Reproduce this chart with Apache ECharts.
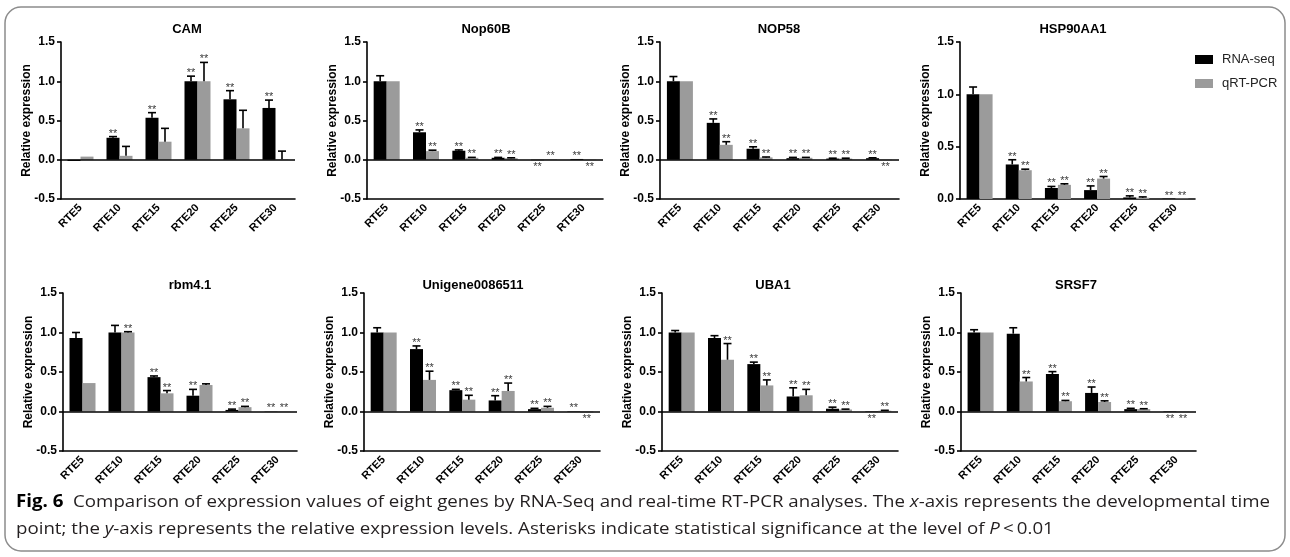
<!DOCTYPE html>
<html><head><meta charset="utf-8">
<script src="https://cdn.jsdelivr.net/npm/echarts@6/dist/echarts.min.js"></script>
<style>html,body{margin:0;padding:0;background:#fff}#c{width:1290px;height:557px}</style>
</head><body><div id="c"></div><script>
// ---------- data ----------
const categories = ['RTE5','RTE10','RTE15','RTE20','RTE25','RTE30'];
const seriesNames = ['RNA-seq','qRT-PCR'];
const geneNames = ['CAM','Nop60B','NOP58','HSP90AA1','rbm4.1','Unigene0086511','UBA1','SRSF7'];
const yTickLabelsFull = ['-0.5','0.0','0.5','1.0','1.5'];

const camRna      = [-0.015, 0.28, 0.535, 1.0, 0.77, 0.66];
const camRnaErr   = [0, 0.015, 0.065, 0.065, 0.11, 0.10];
const camRnaSig   = [0, 1, 1, 1, 1, 1];
const camQpcr     = [0.04, 0.05, 0.23, 1.0, 0.40, 0.005];
const camQpcrErr  = [0, 0.12, 0.17, 0.24, 0.23, 0.105];
const camQpcrSig  = [0, 0, 0, 1, 0, 0];

const nop60bRna     = [1.0, 0.35, 0.115, 0.025, -0.005, 0.01];
const nop60bRnaErr  = [0.07, 0.03, 0.01, 0.005, 0, 0];
const nop60bRnaSig  = [0, 1, 1, 1, 1, 1];
const nop60bQpcr    = [1.0, 0.11, 0.025, 0.02, 0.005, -0.005];
const nop60bQpcrErr = [0, 0.012, 0.005, 0.005, 0, 0];
const nop60bQpcrSig = [0, 1, 1, 1, 1, 1];

const nop58Rna     = [1.0, 0.47, 0.14, 0.02, 0.015, 0.02];
const nop58RnaErr  = [0.06, 0.05, 0.025, 0.01, 0.005, 0.005];
const nop58RnaSig  = [0, 1, 1, 1, 1, 1];
const nop58Qpcr    = [1.0, 0.19, 0.03, 0.025, 0.015, -0.005];
const nop58QpcrErr = [0, 0.04, 0.005, 0.005, 0.005, 0];
const nop58QpcrSig = [0, 1, 1, 1, 1, 1];

const hspRna     = [1.0, 0.33, 0.105, 0.085, 0.015, 0.003];
const hspRnaErr  = [0.07, 0.045, 0.015, 0.04, 0.015, 0];
const hspRnaSig  = [0, 1, 1, 1, 1, 1];
const hspQpcr    = [1.0, 0.275, 0.135, 0.195, 0.012, 0.003];
const hspQpcrErr = [0, 0.01, 0.01, 0.02, 0.008, 0];
const hspQpcrSig = [0, 1, 1, 1, 1, 1];

const rbmRna     = [0.93, 1.0, 0.435, 0.2, 0.02, 0.003];
const rbmRnaErr  = [0.07, 0.09, 0.015, 0.08, 0.01, 0];
const rbmRnaSig  = [0, 0, 1, 1, 1, 1];
const rbmQpcr    = [0.36, 1.0, 0.23, 0.335, 0.055, 0.003];
const rbmQpcrErr = [0, 0.01, 0.035, 0.015, 0.01, 0];
const rbmQpcrSig = [0, 1, 1, 0, 1, 1];

const uniRna     = [1.0, 0.79, 0.27, 0.14, 0.03, 0.005];
const uniRnaErr  = [0.06, 0.04, 0.01, 0.06, 0.01, 0];
const uniRnaSig  = [0, 1, 1, 1, 1, 1];
const uniQpcr    = [1.0, 0.40, 0.15, 0.26, 0.047, -0.01];
const uniQpcrErr = [0, 0.11, 0.055, 0.10, 0.018, 0];
const uniQpcrSig = [0, 1, 1, 1, 1, 1];

const ubaRna     = [1.0, 0.93, 0.60, 0.19, 0.035, -0.005];
const ubaRnaErr  = [0.025, 0.03, 0.025, 0.11, 0.02, 0];
const ubaRnaSig  = [0, 0, 1, 1, 1, 1];
const ubaQpcr    = [1.0, 0.655, 0.33, 0.205, 0.025, 0.01];
const ubaQpcrErr = [0, 0.205, 0.07, 0.075, 0.005, 0.005];
const ubaQpcrSig = [0, 1, 1, 1, 1, 1];

const srsfRna     = [1.0, 0.985, 0.475, 0.235, 0.03, -0.005];
const srsfRnaErr  = [0.035, 0.075, 0.03, 0.075, 0.01, 0];
const srsfRnaSig  = [0, 0, 1, 1, 1, 1];
const srsfQpcr    = [1.0, 0.38, 0.13, 0.12, 0.03, -0.003];
const srsfQpcrErr = [0, 0.05, 0.01, 0.015, 0.005, 0];
const srsfQpcrSig = [0, 1, 1, 1, 1, 1];

const captionLine1 = ['Fig. 6', '  Comparison of expression values of eight genes by RNA-Seq and real-time RT-PCR analyses. The ', 'x', '-axis represents the developmental time'];
const captionLine2 = ['point; the ', 'y', '-axis represents the relative expression levels. Asterisks indicate statistical significance at the level of ', 'P', '\u2009<\u20090.01'];

const geneData = [
  [camRna, camRnaErr, camRnaSig, camQpcr, camQpcrErr, camQpcrSig],
  [nop60bRna, nop60bRnaErr, nop60bRnaSig, nop60bQpcr, nop60bQpcrErr, nop60bQpcrSig],
  [nop58Rna, nop58RnaErr, nop58RnaSig, nop58Qpcr, nop58QpcrErr, nop58QpcrSig],
  [hspRna, hspRnaErr, hspRnaSig, hspQpcr, hspQpcrErr, hspQpcrSig],
  [rbmRna, rbmRnaErr, rbmRnaSig, rbmQpcr, rbmQpcrErr, rbmQpcrSig],
  [uniRna, uniRnaErr, uniRnaSig, uniQpcr, uniQpcrErr, uniQpcrSig],
  [ubaRna, ubaRnaErr, ubaRnaSig, ubaQpcr, ubaQpcrErr, ubaQpcrSig],
  [srsfRna, srsfRnaErr, srsfRnaSig, srsfQpcr, srsfQpcrErr, srsfQpcrSig]
];
const yMins = [-0.5, -0.5, -0.5, 0, -0.5, -0.5, -0.5, -0.5];

// ---------- layout ----------
const panels = [
  {left: 61,  top: 42,  width: 234, height: 157, tx: 187,  ty: 29},
  {left: 367, top: 42,  width: 236, height: 157, tx: 486,  ty: 29},
  {left: 660, top: 42,  width: 239, height: 157, tx: 779,  ty: 29},
  {left: 960, top: 42,  width: 235, height: 157, tx: 1073, ty: 29},
  {left: 63,  top: 293, width: 234, height: 158, tx: 190,  ty: 285},
  {left: 364, top: 293, width: 236, height: 158, tx: 473,  ty: 285},
  {left: 662, top: 293, width: 236, height: 158, tx: 773,  ty: 285},
  {left: 961, top: 293, width: 235, height: 158, tx: 1076, ty: 285}
];
const FONT = '"Liberation Sans", Arial, sans-serif';
const BLACK = '#000000', GREY = '#9b9b9b';
const BARW = 13;

function errRender(side) {
  return function (params, api) {
    const idx = api.value(0), v = api.value(1), e = api.value(2), sig = api.value(3);
    const base = api.coord([idx, v]);
    const x = base[0] + side * BARW / 2;
    const dir = v < 0 ? -1 : 1;
    const endY = api.coord([idx, v + dir * e])[1];
    const ch = [];
    if (e > 0) {
      ch.push({type: 'line', shape: {x1: x, y1: base[1], x2: x, y2: endY}, style: {stroke: '#000', lineWidth: 1.6}});
      ch.push({type: 'line', shape: {x1: x - 4, y1: endY, x2: x + 4, y2: endY}, style: {stroke: '#000', lineWidth: 1.6}});
    }
    if (sig) {
      ch.push({type: 'text', style: {text: '**', x: x, y: dir > 0 ? endY - 3 : endY + 7,
        align: 'center', verticalAlign: 'middle', fill: '#3a3a3a', fontSize: 11, fontFamily: FONT}});
    }
    return {type: 'group', children: ch};
  };
}

const grid = [], xAxis = [], yAxis = [], series = [], graphic = [];
panels.forEach((p, g) => {
  grid.push({left: p.left, top: p.top, width: p.width, height: p.height, containLabel: false, outerBoundsMode: 'none'});
  xAxis.push({
    type: 'category', gridIndex: g, data: categories, boundaryGap: true,
    axisLine: {onZero: false, lineStyle: {color: '#000', width: 1.6}},
    axisTick: {alignWithLabel: true, length: 5, lineStyle: {color: '#000', width: 1.6}},
    axisLabel: {rotate: 45, margin: 7, fontSize: 11, fontWeight: 'bold', fontFamily: FONT, color: '#000', interval: 0}
  });
  yAxis.push({
    type: 'value', gridIndex: g, min: yMins[g], max: 1.5, interval: 0.5,
    name: 'Relative expression', nameLocation: 'middle', nameGap: 28, nameMoveOverlap: false,
    nameTextStyle: {fontSize: 12, fontWeight: 'bold', fontFamily: FONT, color: '#000'},
    axisLine: {show: true, lineStyle: {color: '#000', width: 1.6}},
    axisTick: {show: true, length: 4, lineStyle: {color: '#000', width: 1.6}},
    axisLabel: {margin: 6, fontSize: 12, fontWeight: 'bold', fontFamily: FONT, color: '#000',
      formatter: v => yTickLabelsFull[Math.round((v + 0.5) / 0.5)]},
    splitLine: {show: false}
  });
  const d = geneData[g];
  const barBase = {type: 'bar', xAxisIndex: g, yAxisIndex: g, barWidth: BARW, barGap: '0%', silent: true, animation: false};
  const rnaSeries = Object.assign({}, barBase, {name: seriesNames[0], data: d[0], itemStyle: {color: BLACK}});
  if (yMins[g] < 0) {
    rnaSeries.markLine = {silent: true, symbol: 'none', label: {show: false}, animation: false,
      lineStyle: {color: '#000', width: 1.6, type: 'solid'}, data: [{yAxis: 0}]};
  }
  series.push(rnaSeries);
  series.push(Object.assign({}, barBase, {name: seriesNames[1], data: d[3], itemStyle: {color: GREY}}));
  series.push({type: 'custom', xAxisIndex: g, yAxisIndex: g, z: 5, silent: true, animation: false,
    renderItem: errRender(-1), encode: {x: 0, y: 1},
    data: categories.map((c, i) => [i, d[0][i], d[1][i], d[2][i]])});
  series.push({type: 'custom', xAxisIndex: g, yAxisIndex: g, z: 5, silent: true, animation: false,
    renderItem: errRender(1), encode: {x: 0, y: 1},
    data: categories.map((c, i) => [i, d[3][i], d[4][i], d[5][i]])});
  graphic.push({type: 'text', x: p.tx, y: p.ty, silent: true,
    style: {text: geneNames[g], align: 'center', verticalAlign: 'middle', fill: '#000',
      fontSize: 13, fontWeight: 'bold', fontFamily: FONT}});
});

// caption: one common horizontal scale fitted to the first line's width
const CAPF = '"Open Sans", "Noto Sans", sans-serif';
const CAPS = 17;
const mctx = document.createElement('canvas').getContext('2d');
function mw(t, pre) { mctx.font = pre + CAPS + 'px ' + CAPF; return mctx.measureText(t).width; }
const w1 = mw(captionLine1[0], 'bold ') + mw(captionLine1[1], '') + mw(captionLine1[2], 'italic ') + mw(captionLine1[3], '');
const capScale = 1254 / w1;
const capRich = {
  b: {fontWeight: 'bold', fontSize: CAPS, fontFamily: CAPF, fill: '#000'},
  i: {fontStyle: 'italic', fontSize: CAPS, fontFamily: CAPF, fill: '#231f20'}
};
graphic.push({type: 'rect', silent: true, shape: {x: 5, y: 7, width: 1280, height: 544, r: 16},
  style: {fill: 'none', stroke: '#8c8c8c', lineWidth: 1.5}});
graphic.push({type: 'text', x: 16, y: 502, scaleX: capScale, silent: true,
  style: {text: '{b|' + captionLine1[0] + '}' + captionLine1[1] + '{i|' + captionLine1[2] + '}' + captionLine1[3],
    rich: capRich, fontSize: CAPS, fontFamily: CAPF, fill: '#231f20', verticalAlign: 'middle'}});
graphic.push({type: 'text', x: 16, y: 529, scaleX: capScale, silent: true,
  style: {text: captionLine2[0] + '{i|' + captionLine2[1] + '}' + captionLine2[2] + '{i|' + captionLine2[3] + '}' + captionLine2[4],
    rich: capRich, fontSize: CAPS, fontFamily: CAPF, fill: '#231f20', verticalAlign: 'middle'}});

const chart = echarts.init(document.getElementById('c'), null, {renderer: 'canvas'});
chart.setOption({
  animation: false,
  backgroundColor: '#ffffff',
  grid, xAxis, yAxis, series, graphic,
  legend: {
    data: seriesNames, orient: 'vertical', left: 1195, top: 53, icon: 'rect', padding: 0,
    itemWidth: 18, itemHeight: 9, itemGap: 11,
    textStyle: {fontSize: 13, fontFamily: FONT, color: '#222', padding: [0, 0, 0, 4]}
  }
});
</script></body></html>
